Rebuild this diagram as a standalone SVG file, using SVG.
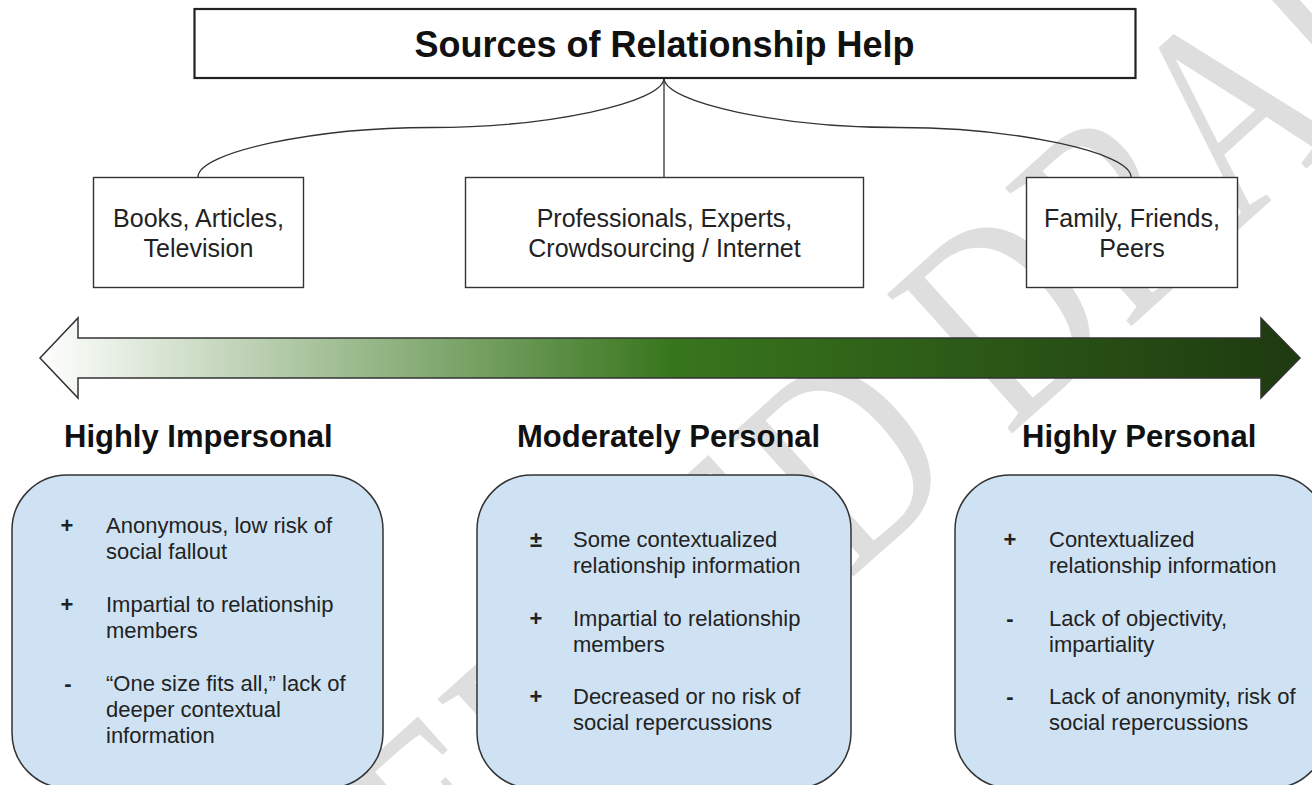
<svg xmlns="http://www.w3.org/2000/svg" width="1312" height="785" viewBox="0 0 1312 785">
  <defs>
    <linearGradient id="scale-fill" x1="40" y1="0" x2="1300" y2="0" gradientUnits="userSpaceOnUse">
      <stop offset="0" stop-color="#ffffff"/>
      <stop offset="0.5" stop-color="#38761d"/>
      <stop offset="1" stop-color="#1e3a10"/>
    </linearGradient>
    <style>
      .box { fill: #ffffff; stroke: #333333; stroke-width: 1.4; }
      .title-box { fill: #ffffff; stroke: #222222; stroke-width: 2.2; }
      .panel { fill: #cfe2f3; stroke: #333333; stroke-width: 1.5; }
      .conn { fill: none; stroke: #333333; stroke-width: 1.3; }
      .title { font-family: "Liberation Sans", Arial, sans-serif; font-size: 36px; font-weight: bold; fill: #111111; text-anchor: middle; }
      .src { font-family: "Liberation Sans", Arial, sans-serif; font-size: 25px; fill: #222222; text-anchor: middle; }
      .head { font-family: "Liberation Sans", Arial, sans-serif; font-size: 31px; font-weight: bold; fill: #111111; }
      .item { font-family: "Liberation Sans", Arial, sans-serif; font-size: 22px; fill: #222222; }
      .mark { font-family: "Liberation Sans", Arial, sans-serif; font-size: 22px; font-weight: bold; fill: #222222; text-anchor: middle; }
      .stamp { font-family: "Liberation Serif", "Times New Roman", serif; font-size: 220px; fill: #dedede; }
    </style>
  </defs>

  <rect width="1312" height="785" fill="#ffffff"/>

  <!-- faint stamp behind the drawing, stretched vertically -->
  <text class="stamp" transform="translate(122 1235) rotate(-42) scale(1 1.3)" x="0" y="0">ACCEPTED DRAFT</text>

  <!-- tree connectors -->
  <g id="connectors">
    <path class="conn" d="M664,78 C664,102.75 547.5,127.5 431,127.5 C314.5,127.5 198,152.25 198,177"/>
    <path class="conn" d="M664,78 L664,177"/>
    <path class="conn" d="M664,78 C664,102.75 780.75,127.5 897.5,127.5 C1014.25,127.5 1131,152.25 1131,177"/>
  </g>

  <g id="title">
    <rect class="title-box" x="194.5" y="9" width="941" height="69"/>
    <text class="title" x="664.5" y="57">Sources of Relationship Help</text>
  </g>

  <g id="source-media">
    <rect class="box" x="93.5" y="177.5" width="210" height="110"/>
    <text class="src" x="198.5" y="227">Books, Articles,</text>
    <text class="src" x="198.5" y="257">Television</text>
  </g>

  <g id="source-experts">
    <rect class="box" x="465.5" y="177.5" width="398" height="110"/>
    <text class="src" x="664.5" y="227">Professionals, Experts,</text>
    <text class="src" x="664.5" y="257">Crowdsourcing / Internet</text>
  </g>

  <g id="source-peers">
    <rect class="box" x="1026.5" y="177.5" width="211" height="110"/>
    <text class="src" x="1132" y="227">Family, Friends,</text>
    <text class="src" x="1132" y="257">Peers</text>
  </g>

  <!-- impersonal-to-personal scale -->
  <g id="scale">
    <path d="M40,358 L78,318 L78,338 L1261,338 L1261,318 L1300,358 L1261,398 L1261,378 L78,378 L78,398 Z" fill="url(#scale-fill)" stroke="#333333" stroke-width="1.5" stroke-linejoin="miter"/>
  </g>

  <g id="impersonal">
    <text class="head" x="64" y="447">Highly Impersonal</text>
    <rect class="panel" x="12" y="475" width="371" height="313" rx="55" ry="55"/>
    <text class="mark" x="67" y="533">+</text>
    <text class="item" x="106" y="533">Anonymous, low risk of</text>
    <text class="item" x="106" y="559">social fallout</text>
    <text class="mark" x="67" y="612">+</text>
    <text class="item" x="106" y="612">Impartial to relationship</text>
    <text class="item" x="106" y="638">members</text>
    <text class="mark" x="68" y="691">-</text>
    <text class="item" x="106" y="691">“One size fits all,” lack of</text>
    <text class="item" x="106" y="717">deeper contextual</text>
    <text class="item" x="106" y="743">information</text>
  </g>

  <g id="moderate">
    <text class="head" x="517" y="447">Moderately Personal</text>
    <rect class="panel" x="477" y="475" width="374" height="313" rx="55" ry="55"/>
    <text class="mark" x="536" y="547">±</text>
    <text class="item" x="573" y="547">Some contextualized</text>
    <text class="item" x="573" y="573">relationship information</text>
    <text class="mark" x="536" y="626">+</text>
    <text class="item" x="573" y="626">Impartial to relationship</text>
    <text class="item" x="573" y="652">members</text>
    <text class="mark" x="536" y="704">+</text>
    <text class="item" x="573" y="704">Decreased or no risk of</text>
    <text class="item" x="573" y="730">social repercussions</text>
  </g>

  <g id="personal">
    <text class="head" x="1022" y="447">Highly Personal</text>
    <rect class="panel" x="955" y="475" width="372" height="313" rx="55" ry="55"/>
    <text class="mark" x="1010" y="547">+</text>
    <text class="item" x="1049" y="547">Contextualized</text>
    <text class="item" x="1049" y="573">relationship information</text>
    <text class="mark" x="1010" y="626">-</text>
    <text class="item" x="1049" y="626">Lack of objectivity,</text>
    <text class="item" x="1049" y="652">impartiality</text>
    <text class="mark" x="1010" y="704">-</text>
    <text class="item" x="1049" y="704">Lack of anonymity, risk of</text>
    <text class="item" x="1049" y="730">social repercussions</text>
  </g>
</svg>
